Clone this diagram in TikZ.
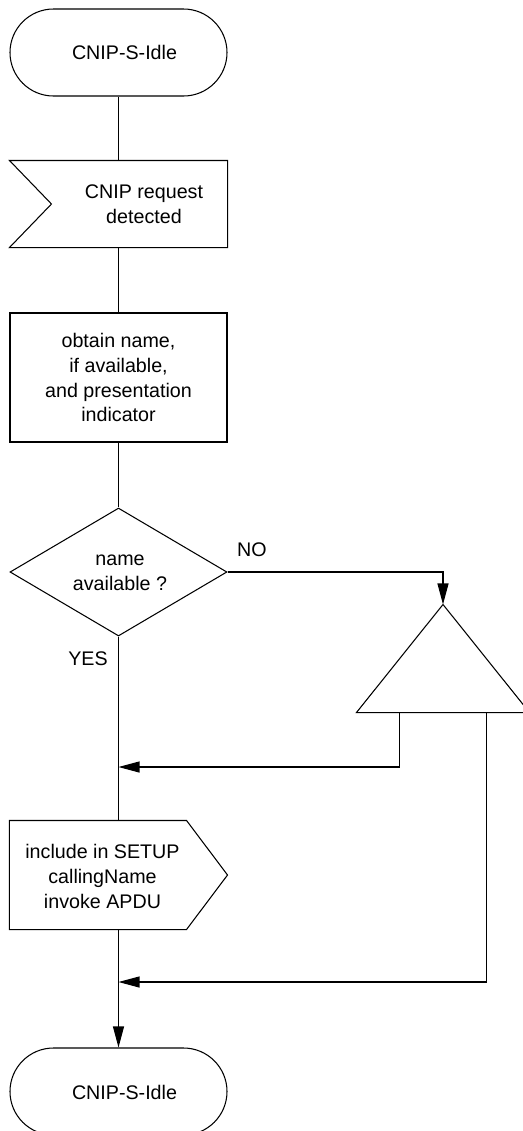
\documentclass[tikz,border=0pt]{standalone}
\usepackage{fontspec}
\setmainfont{Liberation Sans}
\usepackage{tikz}
\usetikzlibrary{shapes.geometric, arrows.meta, positioning, calc}

\begin{document}
\begin{tikzpicture}[
    line width=0.6pt,
    every node/.style={font=\fontsize{11.2}{14.2}\selectfont},
    sdlstate/.style={draw, rectangle, rounded corners=0.87cm, minimum width=4.34cm, minimum height=1.74cm},
    sigframe/.style={rectangle, inner sep=0pt, minimum width=4.34cm},
    flow/.style={-{Triangle[length=0.42cm, width=0.22cm]}}
]
    \useasboundingbox (0,0) rectangle (10.44,-22.62);

    % Start state
    \node[sdlstate] (idle1) at (2.37,-1.05) {};
    \node (idle1txt) at (2.49,-1.05) {CNIP-S-Idle};

    % Input signal
    \node[sigframe, minimum height=1.72cm] (recv) at (2.37,-4.08) {};
    \draw (recv.north west) -- (recv.north east) -- (recv.south east) -- (recv.south west) -- ($(recv.west)+(0.84,0)$) -- cycle;
    \node[align=center] (recvtxt) at (2.88,-4.09) {CNIP request\\detected};

    % Task
    \node[draw, rectangle, minimum width=4.34cm, minimum height=2.58cm, align=center] (task) at (2.37,-7.55) {obtain name,\\if available,\\and presentation\\indicator};

    % Decision
    \node[draw, diamond, minimum width=4.34cm, minimum height=2.56cm, inner sep=0pt] (dec) at (2.37,-11.44) {};
    \node[align=center] (dectxt) at (2.4,-11.46) {name\\available ?};
    \node (no) at (5.04,-11.0) {NO};
    \node (yes) at (1.76,-13.18) {YES};

    % Connector
    \node[rectangle, inner sep=0pt, minimum width=3.44cm, minimum height=2.14cm] (conn) at (8.86,-13.17) {};
    \draw (conn.north) -- (conn.south east) -- (conn.south west) -- cycle;

    % Output signal
    \node[sigframe, minimum height=2.16cm] (send) at (2.37,-17.5) {};
    \draw (send.north west) -- ($(send.north east)+(-0.82,0)$) -- (send.east) -- ($(send.south east)+(-0.82,0)$) -- (send.south west) -- cycle;
    \node[align=center] (sendtxt) at (2.05,-17.52) {include in SETUP\\callingName\\invoke APDU};

    % End state
    \node[sdlstate] (idle2) at (2.37,-21.83) {};
    \node (idle2txt) at (2.49,-21.84) {CNIP-S-Idle};

    % Junctions
    \coordinate (j1) at (2.37,-15.34);
    \coordinate (j2) at (2.37,-19.64);

    % Flow lines
    \draw (idle1.south) -- (recv.north);
    \draw (recv.south) -- (task.north);
    \draw (task.south) -- (dec.north);
    \draw (dec.south) -- (send.north);
    \draw[flow] (send.south) -- (idle2.north);
    \draw[flow] (dec.east) -| (conn.north);
    \draw[flow] ($(conn.south west)!0.25!(conn.south east)$) |- (j1);
    \draw[flow] ($(conn.south west)!0.75!(conn.south east)$) |- (j2);
\end{tikzpicture}
\end{document}
